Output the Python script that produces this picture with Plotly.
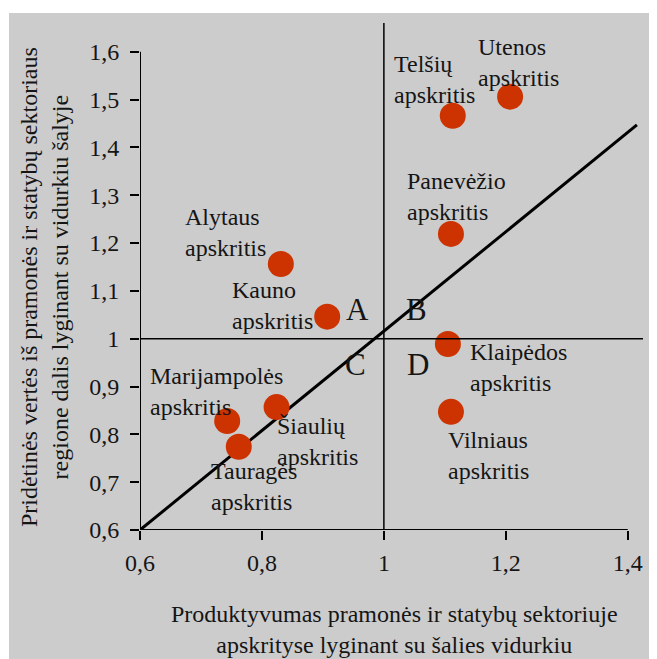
import plotly.graph_objects as go

# Data
regions = ["Utenos", "Telšių", "Panevėžio", "Alytaus", "Kauno",
           "Klaipėdos", "Vilniaus", "Marijampolės", "Šiaulių", "Tauragės"]
productivity = [1.207, 1.113, 1.110, 0.831, 0.907, 1.105, 1.110, 0.743, 0.824, 0.762]
value_share = [1.506, 1.466, 1.219, 1.156, 1.046, 0.989, 0.847, 0.828, 0.857, 0.774]
# label offsets (px) relative to point
label_dx = [-34, -61, -46, -98, -97, 20, -5, -79, -2, -30]
label_dy = [34, 36, 37, 32, 11, -24, -44, 29, -34, -40]

trend_x = [0.6, 1.415]
trend_y = [0.6, 1.447]

quad_labels = ["A", "B", "C", "D", "G"]
quad_x = [0.957, 1.054, 0.954, 1.056, 1.436]
quad_y = [1.060, 1.060, 0.945, 0.945, 1.485]

x_ticks = [0.6, 0.8, 1.0, 1.2, 1.4]
x_ticktext = ["0,6", "0,8", "1", "1,2", "1,4"]
y_ticks = [0.6, 0.7, 0.8, 0.9, 1.0, 1.1, 1.2, 1.3, 1.4, 1.5, 1.6]
y_ticktext = ["0,6", "0,7", "0,8", "0,9", "1", "1,1", "1,2", "1,3", "1,4", "1,5", "1,6"]

x_title = "Produktyvumas pramonės ir statybų sektoriuje<br>apskrityse lyginant su šalies vidurkiu"
y_title = "Pridėtinės vertės iš pramonės ir statybų sektoriaus<br>regione dalis lyginant su vidurkiu šalyje"

FONT = "Liberation Serif"
TXT = "#151515"
FS = 24

fig = go.Figure()

fig.add_trace(go.Scatter(x=trend_x, y=trend_y, mode="lines",
                         line=dict(color="black", width=3), hoverinfo="skip",
                         showlegend=False))
fig.add_trace(go.Scatter(x=productivity, y=value_share, mode="markers",
                         marker=dict(size=26, color="#CC3300", line=dict(width=0)),
                         showlegend=False))

annotations = []
for name, x, y, dx, dy in zip(regions, productivity, value_share, label_dx, label_dy):
    annotations.append(dict(x=x, y=y, xref="x", yref="y", text=f"{name}<br>apskritis",
                            showarrow=False, xanchor="left", yanchor="middle", align="left",
                            xshift=dx, yshift=dy,
                            font=dict(family=FONT, size=FS, color=TXT)))
for t, x, y in zip(quad_labels, quad_x, quad_y):
    annotations.append(dict(x=x, y=y, xref="x", yref="y", text=t, showarrow=False,
                            xanchor="center", yanchor="middle",
                            font=dict(family=FONT, size=31, color=TXT)))
annotations.append(dict(x=0.505, y=-0.197, xref="paper", yref="paper", text=x_title,
                        showarrow=False, xanchor="center", yanchor="middle", align="center",
                        font=dict(family=FONT, size=FS, color=TXT)))
annotations.append(dict(x=-0.191, y=0.479, xref="paper", yref="paper", text=y_title,
                        showarrow=False, xanchor="center", yanchor="middle", align="center",
                        textangle=-90,
                        font=dict(family=FONT, size=FS, color=TXT)))

shapes = [
    # gray background
    dict(type="rect", xref="paper", yref="paper", x0=-0.2604, x1=1.2, y0=-0.4, y1=1.0197,
         fillcolor="#CCCCCC", line=dict(width=0), layer="below"),
    # reference lines
    dict(type="line", xref="x", yref="paper", x0=1, x1=1, y0=0, y1=1,
         line=dict(color="black", width=1.5)),
    dict(type="line", xref="paper", yref="y", x0=0, x1=1, y0=1, y1=1,
         line=dict(color="black", width=1.5)),
    # axis lines
    dict(type="line", xref="x", yref="y", x0=0.6, x1=0.6, y0=0.6, y1=1.6,
         line=dict(color="black", width=2)),
    dict(type="line", xref="x", yref="y", x0=0.6, x1=1.4, y0=0.6, y1=0.6,
         line=dict(color="black", width=2)),
]

fig.update_layout(
    width=649, height=651,
    margin=dict(l=132, r=14, t=15, b=129),
    paper_bgcolor="white",
    plot_bgcolor="rgba(0,0,0,0)",
    showlegend=False,
    annotations=annotations,
    shapes=shapes,
    xaxis=dict(range=[0.6, 1.425], tickvals=x_ticks, ticktext=x_ticktext,
               showgrid=False, zeroline=False, showline=False,
               ticks="outside", ticklen=9, tickwidth=2, tickcolor="black",
               ticklabelstandoff=2,
               tickfont=dict(family=FONT, size=FS, color=TXT)),
    yaxis=dict(range=[0.6, 1.66], tickvals=y_ticks, ticktext=y_ticktext,
               showgrid=False, zeroline=False, showline=False,
               ticks="outside", ticklen=9, tickwidth=2, tickcolor="black",
               ticklabelstandoff=6,
               tickfont=dict(family=FONT, size=FS, color=TXT)),
)

fig.write_html("out.html")
